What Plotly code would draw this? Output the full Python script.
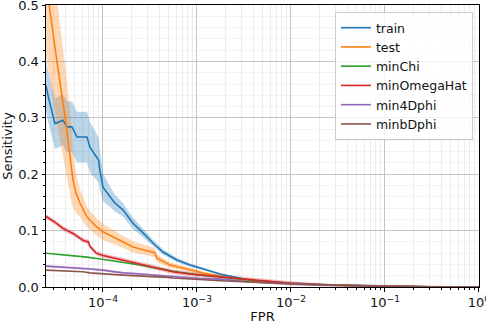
import plotly.graph_objects as go

# ---------------- data ----------------
train_fpr = [2.48e-5, 2.6e-5, 3.08e-5, 3.75e-5, 4.14e-5, 4.68e-5, 5.29e-5, 6.76e-5, 7.27e-5, 8.0e-5,
             9.0e-5, 9.29e-5, 1.0e-4, 1.19e-4, 1.34e-4, 1.63e-4, 2.09e-4, 2.67e-4, 3.40e-4, 4.35e-4,
             6.12e-4, 8.43e-4, 1.28e-3, 1.76e-3, 3.66e-3, 1e-2, 2.5e-2, 1e-1, 3e-1, 1.0]
train_y = [0.357, 0.34, 0.29, 0.296, 0.284, 0.284, 0.266, 0.266, 0.248, 0.237,
           0.225, 0.207, 0.177, 0.16, 0.149, 0.137, 0.113, 0.096, 0.078, 0.062,
           0.048, 0.039, 0.030, 0.023, 0.012, 0.007, 0.004, 0.0015, 0.0005, 0.0]
train_err = [0.045, 0.045, 0.045, 0.045, 0.045, 0.045, 0.045, 0.045, 0.045, 0.043,
             0.04, 0.035, 0.025, 0.018, 0.015, 0.012, 0.01, 0.008, 0.006, 0.005,
             0.004, 0.003, 0.002, 0.0015, 0.001, 0.0006, 0.0004, 0.0002, 0.0001, 0.0]

test_fpr = [2.48e-5, 2.67e-5, 3.24e-5, 4.04e-5, 4.57e-5, 4.8e-5, 5.16e-5, 5.69e-5, 6.76e-5, 7.27e-5,
            8.63e-5, 1.0e-4, 1.28e-4, 1.63e-4, 2.09e-4, 2.67e-4, 3.55e-4, 3.75e-4, 5.16e-4, 7.83e-4,
            1.16e-3, 1.76e-3, 3.66e-3, 1e-2, 2.5e-2, 1e-1, 3e-1, 1.0]
test_y = [0.54, 0.50, 0.40, 0.29, 0.225, 0.19, 0.167, 0.149, 0.124, 0.119,
          0.106, 0.098, 0.089, 0.080, 0.071, 0.066, 0.061, 0.051, 0.039, 0.032,
          0.025, 0.019, 0.011, 0.0065, 0.0035, 0.0012, 0.0004, 0.0]
test_err = [0.13, 0.12, 0.11, 0.09, 0.07, 0.05, 0.035, 0.025, 0.018, 0.017,
            0.015, 0.014, 0.012, 0.011, 0.01, 0.009, 0.008, 0.007, 0.005, 0.004,
            0.003, 0.0025, 0.0015, 0.001, 0.0005, 0.0002, 0.0001, 0.0]

minchi_fpr = [2.48e-5, 4.14e-5, 6.76e-5, 9.0e-5, 1.19e-4, 2.48e-4, 4.8e-4, 5.56e-4, 1.08e-3, 1.76e-3,
              3.66e-3, 1e-2, 2.5e-2, 1e-1, 3e-1, 1.0]
minchi_y = [0.060, 0.057, 0.053, 0.050, 0.047, 0.039, 0.030, 0.028, 0.021, 0.018,
            0.012, 0.006, 0.0035, 0.0012, 0.0004, 0.0]

minomega_fpr = [2.48e-5, 3.08e-5, 3.75e-5, 4.8e-5, 6.12e-5, 7.0e-5, 7.27e-5, 7.83e-5, 8.5e-5, 1.0e-4,
                1.19e-4, 1.63e-4, 2.48e-4, 3.75e-4, 5.56e-4, 8.43e-4, 1.76e-3, 3.66e-3, 1e-2, 2.5e-2,
                1e-1, 3e-1, 1.0]
minomega_y = [0.125, 0.115, 0.104, 0.095, 0.083, 0.080, 0.072, 0.066, 0.060, 0.056,
              0.053, 0.048, 0.041, 0.034, 0.027, 0.023, 0.018, 0.012, 0.0065, 0.0035,
              0.0012, 0.0004, 0.0]

min4d_fpr = [2.48e-5, 4.14e-5, 7.27e-5, 1.0e-4, 1.63e-4, 2.09e-4, 5.56e-4, 1.08e-3, 1.76e-3, 3.66e-3,
             1e-2, 2.5e-2, 1e-1, 3e-1, 1.0]
min4d_y = [0.037, 0.035, 0.032, 0.030, 0.025, 0.024, 0.018, 0.015, 0.014, 0.009,
           0.0055, 0.003, 0.001, 0.0003, 0.0]

minbd_fpr = [2.48e-5, 6.12e-5, 7.27e-5, 1.41e-4, 1.63e-4, 4.8e-4, 5.56e-4, 1.76e-3, 3.66e-3, 1e-2,
             2.5e-2, 1e-1, 3e-1, 1.0]
minbd_y = [0.030, 0.027, 0.025, 0.021, 0.021, 0.017, 0.016, 0.011, 0.009, 0.005,
           0.003, 0.001, 0.0003, 0.0]

x_tickvals = [1e-4, 1e-3, 1e-2, 1e-1, 1.0]
x_ticktext = ["10<sup>\u22124</sup>", "10<sup>\u22123</sup>", "10<sup>\u22122</sup>",
              "10<sup>\u22121</sup>", "10<sup>0</sup>"]
y_tickvals = [0.0, 0.1, 0.2, 0.3, 0.4, 0.5]
y_ticktext = ["0.0", "0.1", "0.2", "0.3", "0.4", "0.5"]

series = [
    ("train", train_fpr, train_y, train_err, "#1f77b4", "rgba(31,119,180,0.3)"),
    ("test", test_fpr, test_y, test_err, "#ff7f0e", "rgba(255,127,14,0.3)"),
    ("minChi", minchi_fpr, minchi_y, None, "#2ca02c", "rgba(44,160,44,0.3)"),
    ("minOmegaHat", minomega_fpr, minomega_y, 0.004, "#d62728", "rgba(214,39,40,0.3)"),
    ("min4Dphi", min4d_fpr, min4d_y, 0.002, "#9467bd", "rgba(148,103,189,0.3)"),
    ("minbDphi", minbd_fpr, minbd_y, None, "#8c564b", "rgba(140,86,75,0.3)"),
]

FONT = "DejaVu Sans"
fig = go.Figure()
# bands first
for name, xs, ys, err, col, fcol in series:
    if err is None:
        continue
    if isinstance(err, (int, float)):
        e = [min(err, v * 0.5 + 0.0005) for v in ys]
    else:
        e = err
    lo = [max(v - d, 0) for v, d in zip(ys, e)]
    hi = [v + d for v, d in zip(ys, e)]
    fig.add_trace(go.Scatter(x=xs, y=lo, mode="lines", line=dict(width=0, color=fcol),
                             showlegend=False, hoverinfo="skip"))
    fig.add_trace(go.Scatter(x=xs, y=hi, mode="lines", line=dict(width=0, color=fcol),
                             fill="tonexty", fillcolor=fcol, showlegend=False, hoverinfo="skip"))
for name, xs, ys, err, col, fcol in series:
    fig.add_trace(go.Scatter(x=xs, y=ys, mode="lines", name=name,
                             line=dict(color=col, width=1.6)))

axis_common = dict(showline=True, linecolor="black", linewidth=1, mirror=True,
                   ticks="outside", ticklen=3.5, tickwidth=0.8, tickcolor="black",
                   gridcolor="#c4c4c4", gridwidth=0.8, zeroline=False,
                   ticklabeloverflow="allow", automargin=False,
                   tickfont=dict(family=FONT, size=13, color="#111"))

fig.update_xaxes(type="log", range=[-4.606, 0.0004], tickvals=x_tickvals, ticktext=x_ticktext,
                 title=dict(text="FPR", font=dict(family=FONT, size=13, color="#111"), standoff=2),
                 minor=dict(dtick="D1", ticks="outside", ticklen=2, tickcolor="black",
                            showgrid=True, gridcolor="#ececec", gridwidth=0.8),
                 **axis_common)
fig.update_yaxes(range=[0, 0.5003], tickvals=y_tickvals, ticktext=y_ticktext,
                 title=dict(text="Sensitivity", font=dict(family=FONT, size=13, color="#111"), standoff=4),
                 minor=dict(dtick=0.02, tick0=0, ticks="outside", ticklen=2, tickcolor="black",
                            showgrid=True, gridcolor="#f3f3f3", gridwidth=0.8),
                 **axis_common)

fig.update_layout(
    width=486, height=327,
    margin=dict(l=46, r=7, t=5, b=40, autoexpand=False),
    paper_bgcolor="white", plot_bgcolor="white",
    font=dict(family=FONT, size=13, color="#111"),
    legend=dict(x=0.986, y=0.975, xanchor="right", yanchor="top", traceorder="normal",
                bgcolor="rgba(255,255,255,0.8)", bordercolor="#cccccc", borderwidth=1,
                font=dict(family=FONT, size=12.5, color="#111"),
                tracegroupgap=0, itemwidth=30),
)

fig.write_html("out.html")
